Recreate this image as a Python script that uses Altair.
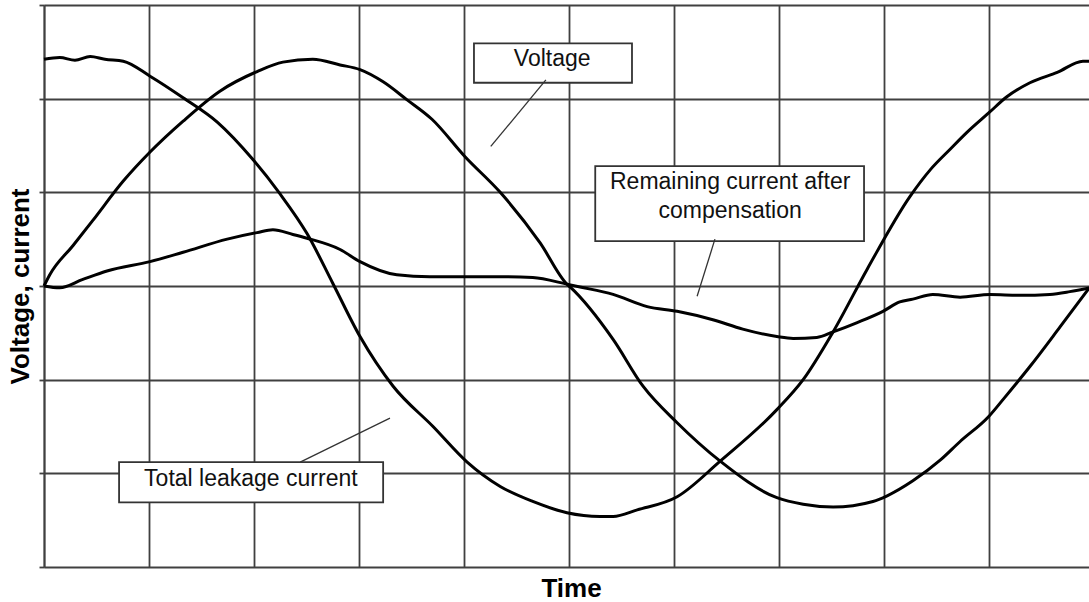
import altair as alt
import pandas as pd

# Time in ms (one grid division = 2 ms), amplitude in grid divisions
voltage_t = [0.00, 0.11, 0.55, 0.93, 1.51, 2.02, 2.65, 3.35, 4.06, 4.55, 5.12, 5.64,
             6.02, 6.46, 6.91, 7.39, 8.02, 8.69, 9.45, 9.96, 10.02, 10.84, 11.41,
             12.06, 12.88, 13.96, 14.46, 15.03, 15.79, 16.06, 16.55, 17.07, 17.45,
             18.00, 18.27, 18.78, 19.35, 19.91]
voltage_v = [0.00, 0.12, 0.43, 0.70, 1.12, 1.43, 1.76, 2.08, 2.29, 2.39, 2.42, 2.36,
             2.31, 2.18, 1.99, 1.78, 1.38, 1.00, 0.46, 0.02, -0.01, -0.57, -1.07,
             -1.46, -1.87, -2.26, -2.33, -2.36, -2.30, -2.24, -2.08, -1.86, -1.66,
             -1.39, -1.21, -0.86, -0.44, -0.02]

leakage_t = [0.00, 0.30, 0.59, 0.88, 1.16, 1.51, 2.02, 2.65, 3.30, 3.98, 4.50, 5.01,
             5.50, 6.02, 6.65, 7.41, 8.06, 8.69, 9.31, 9.96, 10.59, 10.84, 11.30,
             12.06, 12.88, 13.96, 14.46, 15.03, 15.68, 16.50, 16.88, 17.26, 17.58,
             18.00, 18.34, 18.78, 19.30, 19.79, 19.91]
leakage_v = [2.42, 2.44, 2.41, 2.45, 2.42, 2.40, 2.24, 2.01, 1.75, 1.35, 0.98, 0.56,
             0.03, -0.54, -1.07, -1.50, -1.88, -2.14, -2.30, -2.42, -2.46, -2.46, -2.39,
             -2.25, -1.87, -1.32, -1.00, -0.49, 0.18, 0.96, 1.24, 1.46, 1.64,
             1.85, 2.02, 2.17, 2.28, 2.40, 2.40]

remaining_t = [0.00, 0.30, 0.74, 1.20, 2.02, 2.65, 3.49, 4.06, 4.36, 4.74, 5.01, 5.64,
               6.02, 6.72, 7.35, 8.06, 8.69, 9.31, 9.96, 10.21, 10.84, 11.49, 12.06,
               12.74, 13.31, 13.96, 14.27, 14.72, 15.03, 15.49, 15.98, 16.30, 16.55,
               16.93, 17.45, 18.02, 18.59, 19.16, 19.54, 19.91]
remaining_v = [0.00, -0.02, 0.07, 0.16, 0.26, 0.36, 0.50, 0.57, 0.60, 0.55, 0.51, 0.39,
               0.26, 0.12, 0.10, 0.10, 0.10, 0.09, 0.02, -0.01, -0.09, -0.22, -0.27,
               -0.36, -0.46, -0.54, -0.56, -0.55, -0.49, -0.39, -0.27, -0.17, -0.14,
               -0.09, -0.12, -0.09, -0.10, -0.09, -0.06, -0.02]

series = {
    "Voltage": (voltage_t, voltage_v),
    "Total leakage current": (leakage_t, leakage_v),
    "Remaining current": (remaining_t, remaining_v),
}
rows = []
for name, (ts, vs) in series.items():
    rows += [{"series": name, "t": t, "v": v} for t, v in zip(ts, vs)]
traces = pd.DataFrame(rows)

# Callout boxes (ms / divisions)
boxes = pd.DataFrame({
    "t": [8.19, 10.50, 1.43],
    "t2": [11.20, 15.62, 6.46],
    "v": [2.59, 1.28, -1.88],
    "v2": [2.17, 0.48, -2.31],
})
pointers = pd.DataFrame({
    "t": [9.56, 12.78, 4.88],
    "t2": [8.51, 12.44, 6.59],
    "v": [2.20, 0.50, -1.88],
    "v2": [1.49, -0.11, -1.41],
})
labels = pd.DataFrame({
    "text": ["Voltage", "Remaining current after", "compensation", "Total leakage current"],
    "t": [9.68, 13.07, 13.07, 3.94],
    "v": [2.35, 1.04, 0.73, -2.13],
})

FONT = "Liberation Sans"
GRID = "#404040"
x_scale = alt.Scale(domain=[0, 19.905], nice=False, zero=False)
y_scale = alt.Scale(domain=[-3, 3], nice=False)

x_axis = alt.Axis(values=list(range(0, 20, 2)), labels=False, ticks=False, domain=False,
                  grid=True, gridColor=GRID, gridWidth=1.8, gridOpacity=1,
                  title="Time", titleFont=FONT, titleFontSize=26, titleFontWeight="bold",
                  titleColor="black", titleX=527, titleY=21, titleAlign="center",
                  titleBaseline="middle")
y_axis = alt.Axis(values=[-3, -2, -1, 0, 1, 2, 3], labels=False, ticks=True, tickSize=5,
                  tickColor=GRID, tickWidth=1.8, domain=True, domainColor=GRID,
                  domainWidth=1.8, grid=True, gridColor=GRID, gridWidth=1.8, gridOpacity=1,
                  title="Voltage, current", titleFont=FONT, titleFontSize=26,
                  titleFontWeight="bold", titleColor="black", titleAngle=270,
                  titleX=-24, titleY=281, titleAlign="center", titleBaseline="middle")

lines = alt.Chart(traces).mark_line(color="black", strokeWidth=3, strokeJoin="round",
                                    interpolate="monotone").encode(
    x=alt.X("t:Q", scale=x_scale, axis=x_axis),
    y=alt.Y("v:Q", scale=y_scale, axis=y_axis),
    detail="series:N",
)

box_marks = alt.Chart(boxes).mark_rect(fill="white", stroke="#333333", strokeWidth=1.8).encode(
    x=alt.X("t:Q", title="Time"), x2="t2", y=alt.Y("v:Q", title="Voltage, current"), y2="v2"
)

pointer_marks = alt.Chart(pointers).mark_rule(color="#333333", strokeWidth=1.3).encode(
    x=alt.X("t:Q", title="Time"), x2="t2", y=alt.Y("v:Q", title="Voltage, current"), y2="v2"
)

text_marks = alt.Chart(labels).mark_text(font=FONT, fontSize=23, color="#111111",
                                         align="center", baseline="alphabetic").encode(
    x=alt.X("t:Q", title="Time"), y=alt.Y("v:Q", title="Voltage, current"), text="text:N"
)

chart = alt.layer(lines, box_marks, pointer_marks, text_marks).properties(
    width=1045, height=562, autosize="none",
    padding={"left": 44, "top": 5, "right": 0, "bottom": 35},
    background="white",
).configure_view(stroke="transparent")

chart.save("out.html", embed_options={"renderer": "svg", "actions": False})
